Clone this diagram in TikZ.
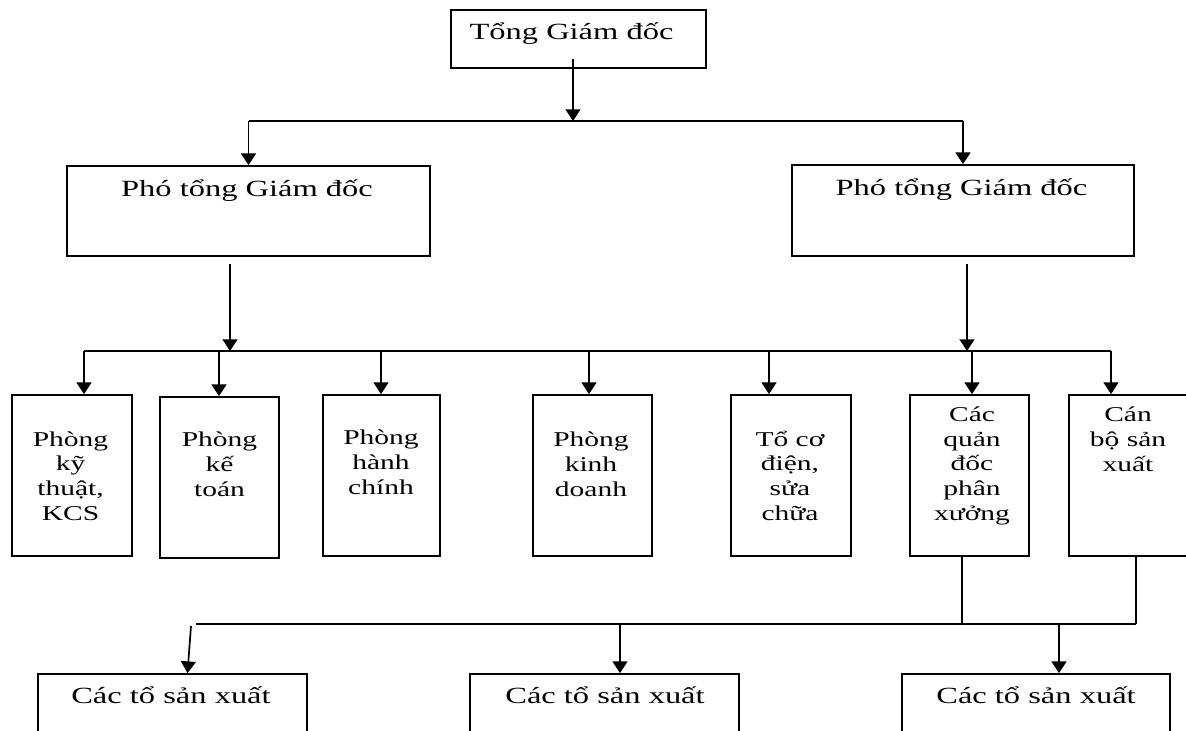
\documentclass[tikz,border=0pt]{standalone}
\usepackage{fontspec}
\setmainfont{Liberation Serif}[FakeStretch=1.4]
\usetikzlibrary{arrows.meta,calc,fit}
\begin{document}
\begin{tikzpicture}[x=0.375pt, y=-0.375pt,
  box/.style={draw, line width=0.65pt, inner sep=0pt},
  conn/.style={line width=0.65pt},
  arr/.style={conn, -{Triangle[width=5.6pt,length=4.4pt]}},
  hd/.style={font=\fontsize{8.7}{10}\selectfont, inner sep=0pt, anchor=base},
  bt/.style={font=\fontsize{7.9}{9.19}\selectfont, align=center, inner sep=0pt, anchor=base}]
\useasboundingbox (0,0) rectangle (1186,731);
\fill[white] (0,0) rectangle (1186,731);
\clip (0,0) rectangle (1186,731);

% top
\node[box, fit={(451,10) (706,68)}] (tgd) {};
\node[hd] (tgdt) at (571.5,40) {Tổng Giám đốc};

% deputies
\node[box, fit={(67,166) (430,256)}] (p1) {};
\node[hd] (p1t) at (247,197) {Phó tổng Giám đốc};
\node[box, fit={(792,165) (1134,256)}] (p2) {};
\node[hd] (p2t) at (961.5,196) {Phó tổng Giám đốc};

% row boxes
\node[box, fit={(12,395) (132,556)}] (r1) {};
\node[box, fit={(160,397) (279,558)}] (r2) {};
\node[box, fit={(323,395) (440,556)}] (r3) {};
\node[box, fit={(533,395) (652,556)}] (r4) {};
\node[box, fit={(731,395) (851,556)}] (r5) {};
\node[box, fit={(910,395) (1029,556)}] (r6) {};
\node[box, fit={(1069,395) (1192,556)}] (r7) {};
% anchor = baseline of the last line
\node[bt] (r1t) at (70.5,520) {Phòng\\kỹ\\thuật,\\KCS};
\node[bt] (r2t) at (219.5,496) {Phòng\\kế\\toán};
\node[bt] (r3t) at (381,494) {Phòng\\hành\\chính};
\node[bt] (r4t) at (591,496) {Phòng\\kinh\\doanh};
\node[bt] (r5t) at (790,520) {Tổ cơ\\điện,\\sửa\\chữa};
\node[bt] (r6t) at (972,520) {Các\\quản\\đốc\\phân\\xưởng};
\node[bt] (r7t) at (1128,471) {Cán\\bộ sản\\xuất};

% bottom boxes
\node[box, fit={(38,674) (307,745)}] (b1) {};
\node[box, fit={(470,674) (739,745)}] (b2) {};
\node[box, fit={(902,674) (1170,745)}] (b3) {};
\node[hd] (b1t) at (171,703) {Các tổ sản xuất};
\node[hd] (b2t) at (605,703) {Các tổ sản xuất};
\node[hd] (b3t) at (1036,703) {Các tổ sản xuất};

% top connectors
\coordinate (jt) at (573,121);
\draw[arr] ($(tgd.south)+(-5.5,-10)$) -- (jt);
\draw[conn] (p1.north |- jt) -- (p2.north |- jt);
\draw[arr] (p1.north |- jt) -- (p1.north);
\draw[arr] (p2.north |- jt) -- (p2.north);

% row connectors
\coordinate (d1) at (84,351);
\coordinate (d2) at (219,351);
\coordinate (d3) at (381,351);
\coordinate (d4) at (589,351);
\coordinate (d5) at (769,351);
\coordinate (d6) at (972,351);
\coordinate (d7) at (1111,351);
\draw[conn] (d1) -- (d7);
\coordinate (p1o) at ($(p1.south)+(-18.5,7)$);
\coordinate (p2o) at ($(p2.south)+(4,7)$);
\draw[arr] (p1o) -- (p1o |- d1);
\draw[arr] (p2o) -- (p2o |- d1);
\foreach \i in {1,...,7} {\draw[arr] (d\i) -- (d\i |- r\i.north);}

% bottom connectors
\coordinate (e6) at (962,624);
\coordinate (e7) at (1136,624);
\coordinate (e0) at (196,624);
\draw[conn] (r6.south -| e6) -- (e6);
\draw[conn] (r7.south -| e7) -- (e7);
\draw[conn] (e0) -- (e7);
\coordinate (e1) at (191,626);
\draw[arr] (e1) -- ($(b1.north)+(15,0)$);
\coordinate (e2) at (620,624);
\coordinate (e3) at (1059,624);
\draw[line width=1.1pt] (e2) -- ++(29,0);
\draw[arr] (e2) -- (e2 |- b2.north);
\draw[arr] (e3) -- (e3 |- b3.north);
\end{tikzpicture}
\end{document}
